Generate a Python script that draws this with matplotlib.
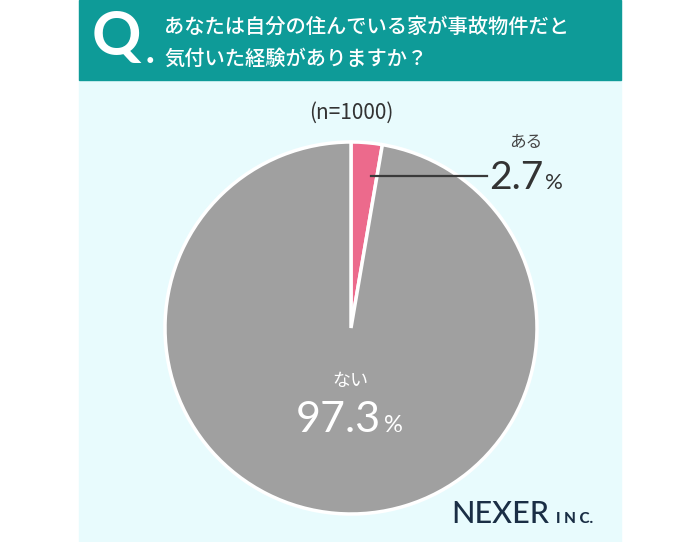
import matplotlib
matplotlib.use("Agg")
import matplotlib.pyplot as plt
from matplotlib.patches import Rectangle

plt.rcParams['font.family'] = ['Noto Sans CJK JP', 'DejaVu Sans']

# --- データ ---
labels = ['ある', 'ない']
values = [2.7, 97.3]
colors = ['#ec6a8c', '#a0a0a0']
question = ['あなたは自分の住んでいる家が事故物件だと', '気付いた経験がありますか？']
n_text = '(n=1000)'

W, H = 700, 542
fig = plt.figure(figsize=(W / 100, H / 100), dpi=100)
fig.patch.set_facecolor('white')

# 背景
bg = fig.add_axes([0, 0, 1, 1], zorder=0)
bg.set_xlim(0, W)
bg.set_ylim(H, 0)
bg.axis('off')
bg.add_patch(Rectangle((79, 0), 542, H, color='#e8fbfd', zorder=0))
bg.add_patch(Rectangle((79, 0), 542, 80, color='#0e9b98', zorder=1))

# 円グラフ
cx, cy, r = 351, 328, 186
ax = fig.add_axes([(cx - r) / W, (H - cy - r) / H, 2 * r / W, 2 * r / H], zorder=1)
ax.pie(values, colors=colors, startangle=90, counterclock=False,
       wedgeprops=dict(edgecolor='white', linewidth=2.5))
ax.set_xlim(-1, 1)
ax.set_ylim(-1, 1)
ax.set_aspect('equal')
ax.axis('off')

# 文字・注釈（最前面）
top = fig.add_axes([0, 0, 1, 1], zorder=2)
top.set_xlim(0, W)
top.set_ylim(H, 0)
top.axis('off')
top.patch.set_alpha(0)

top.text(92, 55, 'Q', color='white', fontsize=44, fontweight='bold',
         family='Lato', va='baseline', ha='left')
top.text(146, 63, '.', color='white', fontsize=26, fontweight='black',
         family='Lato', va='baseline', ha='left')
top.text(164, 33, question[0], color='white', fontsize=14.6,
         fontweight='medium', va='baseline')
top.text(164, 65, question[1], color='white', fontsize=14.6,
         fontweight='medium', va='baseline')

top.text(351, 113, n_text, color='#333333', fontsize=15, ha='center', va='center')

top.plot([371, 487], [176, 176], color='#3a3a3a', lw=1.6)
top.text(526, 142, labels[0], color='#444444', fontsize=12, ha='center', va='center')
top.text(543, 189, f'{values[0]}', color='#333333', fontsize=28, family='Lato',
         ha='right', va='baseline')
top.text(545, 189, '%', color='#333333', fontsize=16, family='Lato',
         ha='left', va='baseline')

top.text(350, 381, labels[1], color='white', fontsize=13, ha='center', va='center')
top.text(381, 432, f'{values[1]}', color='white', fontsize=31, family='Lato',
         ha='right', va='baseline')
top.text(384, 432, '%', color='white', fontsize=17, family='Lato',
         ha='left', va='baseline')

top.text(451, 523, 'NEXER', color='#1a2e45', fontsize=22, fontweight='medium',
         family='Lato', ha='left', va='baseline')
top.text(556, 523, 'I N C.', color='#1a2e45', fontsize=11, fontweight='black',
         family='Lato', ha='left', va='baseline')

fig.savefig('out.png', dpi=100)
